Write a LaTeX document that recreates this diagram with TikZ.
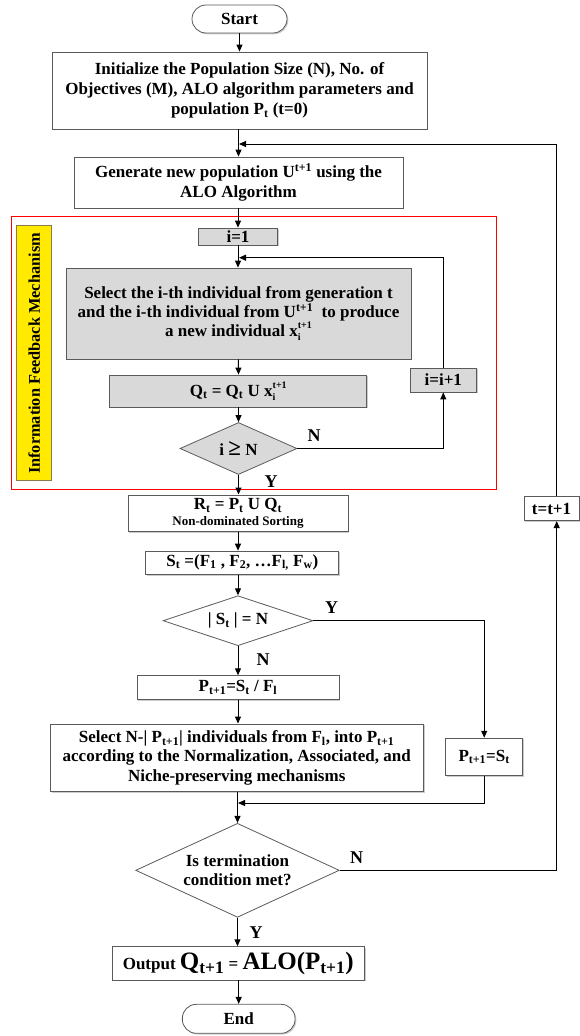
\documentclass[tikz,border=0pt]{standalone}
\usepackage{fontspec}
\setmainfont{Liberation Serif}
\usetikzlibrary{shapes.geometric,arrows.meta,shadows}
\newcommand\SubSup[2]{\rlap{\raisebox{-4pt}{\fontsize{10}{10}\selectfont #1}}\raisebox{8pt}{\fontsize{10}{10}\selectfont #2}}
\definecolor{boxgray}{HTML}{D9D9D9}
\definecolor{bordergray}{HTML}{5A5A5A}
\definecolor{fbyellow}{HTML}{FFEA00}
\definecolor{fbborder}{HTML}{8C7A50}
\begin{document}
\begin{tikzpicture}[x=1pt,y=-1pt,
  every node/.style={font=\bfseries\fontsize{17}{19.8}\selectfont},
  box/.style={draw=bordergray, fill=white, line width=0.8pt, align=center, inner sep=0pt,
    drop shadow={shadow xshift=1.3pt, shadow yshift=-1.3pt, fill=black!40, opacity=0.5}},
  gbox/.style={box, fill=boxgray},
  term/.style={box, rounded corners=14pt},
  dec/.style={diamond, draw=bordergray, fill=white, line width=0.8pt, align=center, inner sep=0pt},
  gdec/.style={dec, fill=boxgray},
  lbl/.style={font=\bfseries\fontsize{18}{18}\selectfont},
  arr/.style={draw=black, line width=1pt, -{Triangle[length=7pt,width=6pt]}},
  ln/.style={draw=black, line width=1pt}
]
\useasboundingbox (0,0) rectangle (580,1036);

% feedback frame
\node[draw=red, line width=1pt, minimum width=485pt, minimum height=273pt, inner sep=0pt] (fb) at (253.5,352.5) {};
\node[draw=fbborder, fill=fbyellow, line width=0.8pt, minimum width=35pt, minimum height=255pt, inner sep=0pt] (yl) at (34.2,352.5) {};
\node[rotate=90, font=\bfseries\fontsize{16.3}{16.3}\selectfont] (ylt) at (34.2,353.5) {Information Feedback Mechanism};

% nodes
\node[term, minimum width=95pt, minimum height=28pt] (start) at (239.5,19) {Start};
\node[box, minimum width=375pt, minimum height=77pt] (init) at (239.5,90.5)
  {Initialize the Population Size (N), No. of\\Objectives (M), ALO algorithm parameters and\\population P\textsubscript{t} (t=0)};
\node[box, minimum width=329pt, minimum height=51pt] (gen) at (238.5,182.5)
  {Generate new population U\textsuperscript{t+1} using the\\ALO Algorithm};
\node[gbox, minimum width=79pt, minimum height=17pt] (i1) at (238,236.5) {i=1};
\node[gbox, minimum width=345pt, minimum height=91pt, font=\bfseries\fontsize{17}{19.2}\selectfont] (sel) at (238.5,313.5)
  {Select the i-th individual from generation t\\and the i-th individual from U\textsuperscript{t+1}\ \ to produce\\a new individual x\SubSup{i}{t+1}};
\node[gbox, minimum width=257pt, minimum height=32pt] (q) at (238.3,391)
  {Q\textsubscript{t} = Q\textsubscript{t} U x\SubSup{i}{t+1}};
\node[gdec, minimum width=117pt, minimum height=52pt, aspect=2.25] (d1) at (238.5,448.5)
  {i {\fontsize{23}{23}\selectfont ≥} N};
\node[gbox, minimum width=66.6pt, minimum height=24pt] (ii) at (443.3,380) {i=i+1};

\node[box, minimum width=220pt, minimum height=36.7pt] (rt) at (238,513.3)
  {R\textsubscript{t} = P\textsubscript{t} U Q\textsubscript{t}\\[-4pt]{\fontsize{13}{13}\selectfont Non-dominated Sorting}};
\node[box, minimum width=193pt, minimum height=23.3pt] (st) at (242.3,562.7)
  {S\textsubscript{t} =(F\textsubscript{1} , F\textsubscript{2}, \ldots F\textsubscript{l,} F\textsubscript{w})};
\node[dec, minimum width=150pt, minimum height=50pt, aspect=3] (d2) at (238,620.7)
  {| S\textsubscript{t} | = N};
\node[box, minimum width=202pt, minimum height=23.6pt] (p) at (238,687.5)
  {P\textsubscript{t+1}=S\textsubscript{t} / F\textsubscript{l}};
\node[box, minimum width=373pt, minimum height=67.7pt, font=\bfseries\fontsize{17}{19.2}\selectfont] (sel2) at (236.7,757.8)
  {Select N-| P\textsubscript{t+1}| individuals from F\textsubscript{l}, into P\textsubscript{t+1}\\according to the Normalization, Associated, and\\Niche-preserving mechanisms};
\node[box, minimum width=77pt, minimum height=37.7pt] (pst) at (484.2,757)
  {P\textsubscript{t+1}=S\textsubscript{t}};
\node[dec, minimum width=203.6pt, minimum height=94pt, aspect=2.17] (d3) at (237.5,870.3)
  {Is termination\\condition met?};
\node[box, minimum width=55pt, minimum height=24pt] (tt) at (551.5,508.7) {t=t+1};
\node[box, minimum width=252pt, minimum height=33.3pt] (out) at (238.3,963.3)
  {\fontsize{17}{17}\selectfont Output {\fontsize{25}{25}\selectfont Q\textsubscript{t+1}} = {\fontsize{25}{25}\selectfont ALO(P\textsubscript{t+1})}};
\node[term, minimum width=112.7pt, minimum height=29pt] (end) at (238.7,1018.8) {End};

% junction points
\coordinate (j0) at (239,144);
\coordinate (j1) at (239,257.7);
\coordinate (j2) at (238,803);
\coordinate (rx) at (556.7,0);

% connectors
\draw[arr] (start) -- (start.south |- init.north);
\draw[arr] (init.south -| gen.north) -- (gen.north);
\draw[arr] (gen.south -| i1.north) -- (i1.north);
\draw[arr] (i1.south) -- (i1.south |- sel.north);
\draw[arr] (sel.south -| q.north) -- (q.north -| sel.south);
\draw[arr] (q.south -| d1.north) -- (d1.north);
\draw[arr] (d1.east) -| (ii.south);
\draw[arr] (ii.north) |- (j1);
\draw[arr] (d1.south) -- (d1.south |- rt.north);
\draw[arr] (rt.south) -- (rt.south |- st.north);
\draw[arr] (st.south -| d2.north) -- (d2.north);
\draw[arr] (d2.east) -| (pst.north);
\draw[arr] (d2.south) -- (d2.south |- p.north);
\draw[arr] (p.south) -- (p.south |- sel2.north);
\draw[arr] (sel2.south -| d3.north) -- (j2 -| d3.north) -- (d3.north);
\draw[arr] (pst.south) |- (j2);
\draw[arr] (d3.east) -| (tt.south -| rx);
\draw[arr] (tt.north -| rx) |- (j0);
\draw[arr] (d3.south) -- (d3.south |- out.north);
\draw[arr] (out.south -| end.north) -- (end.north);

% labels
\node[lbl] (n1) at (314,436) {N};
\node[lbl] (y1) at (271,481.7) {Y};
\node[lbl] (y2) at (331.7,608) {Y};
\node[lbl] (n2) at (263,660) {N};
\node[lbl] (n3) at (356.7,857.3) {N};
\node[lbl] (y3) at (256,932.7) {Y};
\end{tikzpicture}
\end{document}
